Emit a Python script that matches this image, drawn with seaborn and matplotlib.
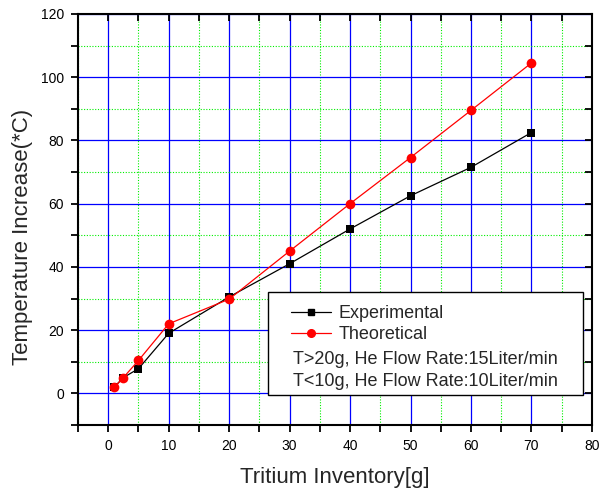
import numpy as np
import pandas as pd
import matplotlib
matplotlib.use("Agg")
import matplotlib.pyplot as plt
from matplotlib.patches import Rectangle
from matplotlib.ticker import MultipleLocator
import seaborn as sns

# Data:
inventory = [1, 2.5, 5, 10, 20, 30, 40, 50, 60, 70]
experimental = [2.0, 5.0, 7.8, 19.0, 30.5, 41.0, 52.0, 62.5, 71.5, 82.5]
theoretical = [1.9, 5.0, 10.4, 22.0, 29.8, 45.0, 60.0, 74.6, 89.5, 104.5]

series_names = ["Experimental", "Theoretical"]
note_lines = ["T>20g, He Flow Rate:15Liter/min", "T<10g, He Flow Rate:10Liter/min"]

df = pd.DataFrame({
    "Tritium": inventory * 2,
    "Temp": experimental + theoretical,
    "Series": [series_names[0]] * len(inventory) + [series_names[1]] * len(inventory),
})

sns.set_style("ticks")
plt.rcParams["font.family"] = ["Liberation Sans", "DejaVu Sans"]

fig = plt.figure(figsize=(6.01, 4.94), dpi=100)
ax = fig.add_axes([0.1298, 0.1397, 0.855, 0.832])

# Grid under the lines:
ax.set_axisbelow(True)
ax.xaxis.set_major_locator(MultipleLocator(10))
ax.xaxis.set_minor_locator(MultipleLocator(5))
ax.yaxis.set_major_locator(MultipleLocator(20))
ax.yaxis.set_minor_locator(MultipleLocator(10))
ax.grid(which="major", color="#0000ff", linewidth=0.9, linestyle="-")
ax.grid(which="minor", color="#00ee00", linewidth=0.8, linestyle=(0, (1, 1.5)))

sns.lineplot(data=df, x="Tritium", y="Temp", hue="Series", style="Series",
             palette={"Experimental": "black", "Theoretical": "red"},
             markers={"Experimental": "s", "Theoretical": "o"},
             dashes=False, markersize=6, markeredgewidth=0, linewidth=0.9,
             legend=False, ax=ax)

# Red markers above the black ones
lines = ax.get_lines()
lines[0].set_zorder(2)
lines[1].set_zorder(3)
lines[1].set_markersize(7)

ax.set_xlim(-5, 80)
ax.set_ylim(-10, 120)

for side in ["left", "right", "top", "bottom"]:
    ax.spines[side].set_visible(True)
    ax.spines[side].set_color("black")
    ax.spines[side].set_linewidth(1.5)

# Bottom/left ticks outward, top/right ticks inward
ax.tick_params(which="both", direction="out", length=5, width=1.3,
               top=True, right=True, labelsize=10, colors="black", pad=5)
for t in ax.xaxis.get_ticklines(minor=False)[1::2] + ax.xaxis.get_ticklines(minor=True)[1::2]:
    t.set_marker(3)
for t in ax.yaxis.get_ticklines(minor=False)[1::2] + ax.yaxis.get_ticklines(minor=True)[1::2]:
    t.set_marker(0)

ax.set_xlabel("Tritium Inventory[g]", fontsize=16, labelpad=10)
ax.set_ylabel("Temperature Increase(*C)", fontsize=16)
ax.yaxis.set_label_coords(-0.088, 0.457)

# Legend box with notes
box = Rectangle((0.370, 0.073), 0.613, 0.251, transform=ax.transAxes,
                facecolor="white", edgecolor="black", linewidth=1.0, zorder=5)
ax.add_patch(box)

handles = [
    plt.Line2D([], [], color="black", marker="s", markersize=4.5, linewidth=0.9),
    plt.Line2D([], [], color="red", marker="o", markersize=5.5, linewidth=0.9),
]
leg = ax.legend(handles, series_names, loc="upper left",
                bbox_to_anchor=(0.415, 0.292), frameon=False, fontsize=13,
                handlelength=2.2, handletextpad=0.4, labelspacing=0.22,
                borderaxespad=0, borderpad=0)
leg.set_zorder(6)

for i, txt in enumerate(note_lines):
    ax.text(0.419, 0.1605 - i * 0.0535, txt, transform=ax.transAxes, fontsize=13,
            va="center", ha="left", zorder=7)

fig.savefig("out.png", dpi=100)
